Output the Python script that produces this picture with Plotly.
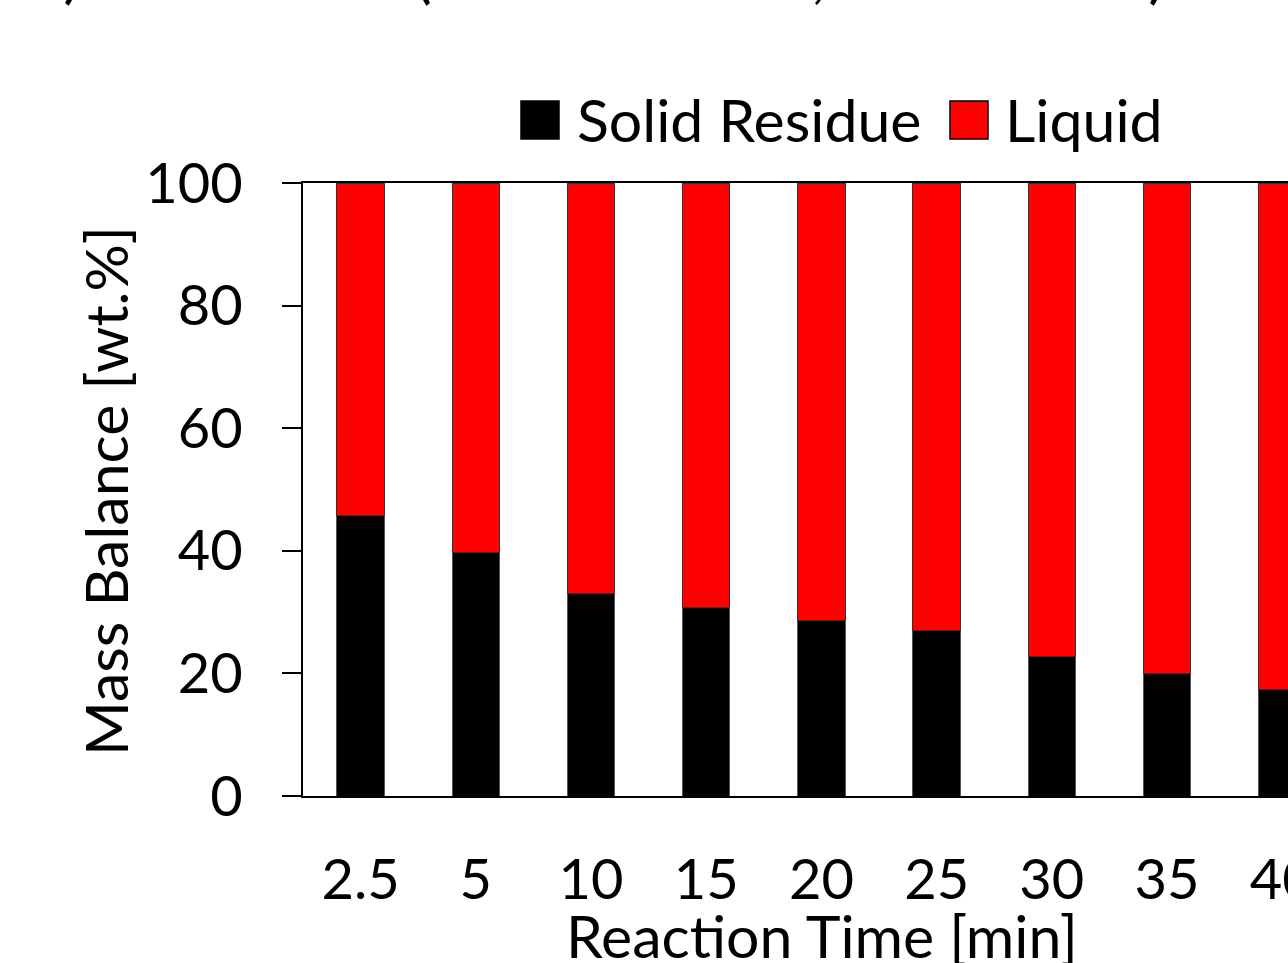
import plotly.graph_objects as go

# Reaction times (min) and mass balance split (wt.%)
reaction_time = ["2.5", "5", "10", "15", "20", "25", "30", "35", "40"]
solid_residue = [45.8, 39.7, 33.1, 30.7, 28.6, 27.0, 22.8, 20.0, 17.4]
liquid = [round(100 - s, 1) for s in solid_residue]
y_ticks = [0, 20, 40, 60, 80, 100]

FONT = "Lato"
FS_TICK = 56
FS_TEXT = 59

# plot area in pixels
L, R, T, B = 303, 0, 183, 167
W, H = 1288, 963
PW, PH = W - L - R, H - T - B


def px(x):
    return (x - L) / PW


def py(y):
    return (H - B - y) / PH


fig = go.Figure()
fig.add_trace(go.Bar(
    x=reaction_time, y=solid_residue, name="Solid Residue",
    marker=dict(color="#000000", line=dict(color="#555555", width=1)),
    showlegend=False,
))
fig.add_trace(go.Bar(
    x=reaction_time, y=liquid, name="Liquid",
    marker=dict(color="#FF0000", line=dict(color="#333333", width=1)),
    showlegend=False,
))

fig.update_layout(
    width=W, height=H,
    margin=dict(l=L, r=R, t=T, b=B, pad=0, autoexpand=False),
    barmode="stack", bargap=0.589,
    plot_bgcolor="white", paper_bgcolor="white",
    font=dict(family=FONT, size=FS_TEXT, color="black"),
    showlegend=False,
)
fig.update_xaxes(
    type="category", range=[-0.5, 8.05], automargin=False,
    showline=True, linecolor="black", linewidth=2, mirror=True,
    showgrid=False, ticks="", ticklabelstandoff=34,
    tickfont=dict(family=FONT, size=FS_TICK),
)
fig.update_yaxes(
    range=[0, 100], tickvals=y_ticks, automargin=False,
    showline=True, linecolor="black", linewidth=2,
    showgrid=False, zeroline=False,
    ticks="outside", ticklen=19, tickwidth=2, tickcolor="black",
    ticklabelstandoff=28,
    tickfont=dict(family=FONT, size=FS_TICK),
)

# axis titles
fig.add_annotation(text="Reaction Time [min]", xref="paper", yref="paper",
                   x=px(822), y=py(935), xanchor="center", yanchor="middle",
                   showarrow=False, font=dict(family=FONT, size=FS_TEXT))
fig.add_annotation(text="Mass Balance [wt.%]", xref="paper", yref="paper",
                   x=px(105), y=py(491), xanchor="center", yanchor="middle",
                   textangle=-90, showarrow=False, font=dict(family=FONT, size=FS_TEXT))

# panel title
fig.add_annotation(text="a) Mass Data (Solid Residue, T = 300 °C)", xref="paper", yref="paper",
                   x=px(30), y=py(12), xanchor="left", yanchor="bottom",
                   showarrow=False, font=dict(family=FONT, size=65))

# legend: swatches + labels
legend_items = [("Solid Residue", "#000000", 521, 575), ("Liquid", "#FF0000", 950, 1003)]
for label, color, sx, tx in legend_items:
    fig.add_shape(type="rect", xref="paper", yref="paper",
                  x0=px(sx), x1=px(sx + 38), y0=py(139), y1=py(101),
                  fillcolor=color, line=dict(color="black", width=1.5))
    fig.add_annotation(text=label, xref="paper", yref="paper",
                       x=px(tx), y=py(120), xanchor="left", yanchor="middle",
                       showarrow=False, font=dict(family=FONT, size=FS_TEXT))

fig.write_html("out.html")
